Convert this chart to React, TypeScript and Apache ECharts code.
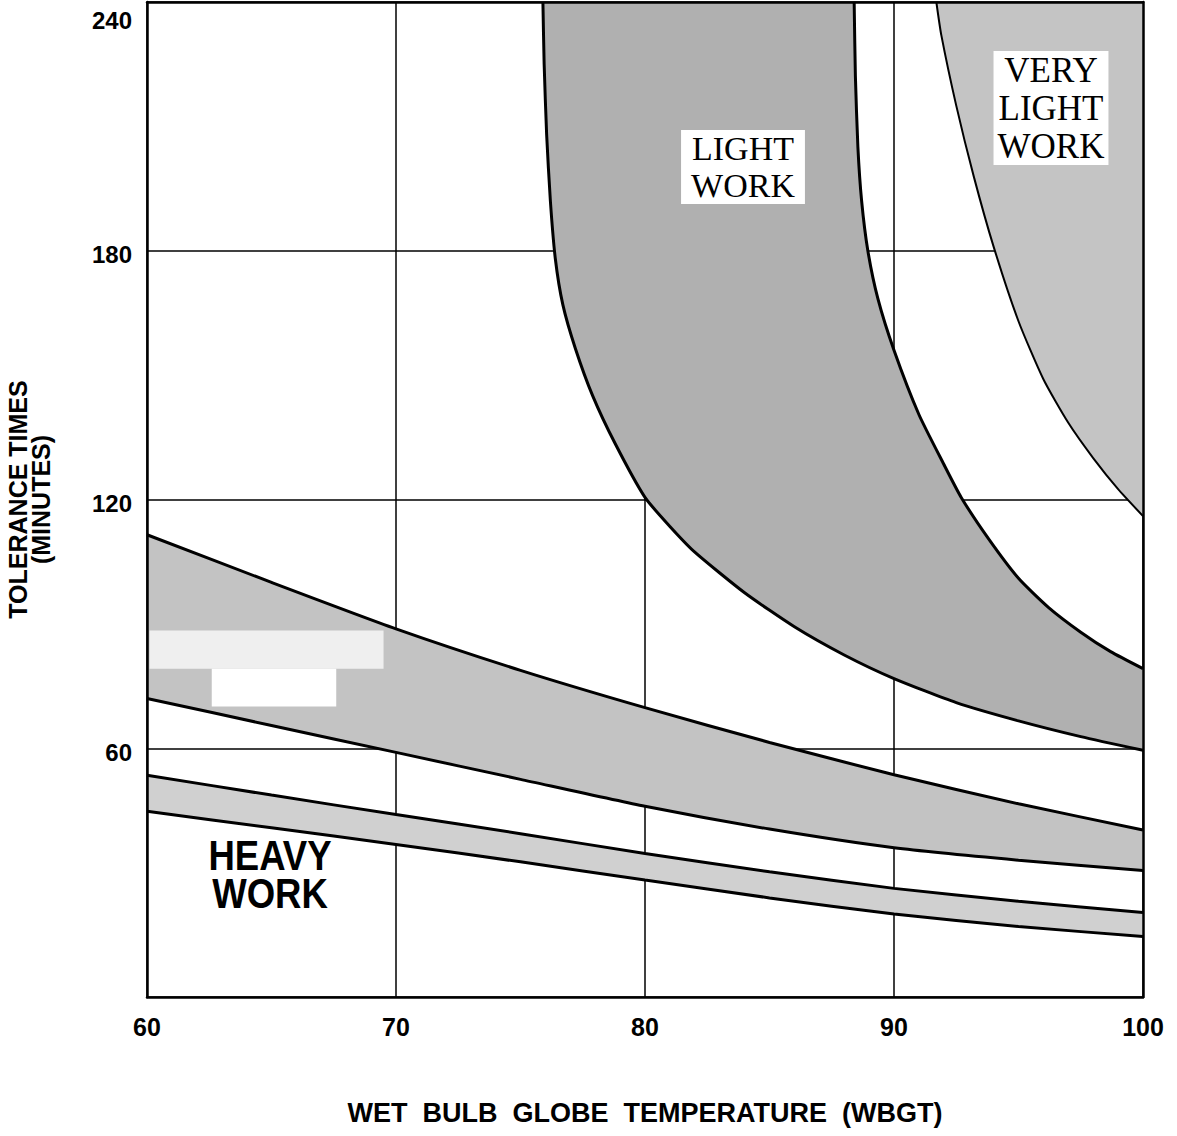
import React, { useEffect, useRef } from 'react';
import * as echarts from 'echarts';

// ---- axis ticks ----
const wbgtTicks = [60, 70, 80, 90, 100];
const toleranceTicks = [0, 60, 120, 180, 240];

// ---- straight-ish bands (value per WBGT) ----
const wbgt = [60, 65, 70, 75, 80, 85, 90, 95, 100];
const heavyUpper = [53.5, 48.7, 44.0, 39.4, 34.6, 30.2, 26.2, 23.1, 20.4];
const heavyLower = [44.8, 40.8, 36.8, 32.6, 28.2, 23.9, 20.0, 17.0, 14.6];
const moderateUpper = [111.5, 100.0, 88.8, 78.8, 69.8, 61.4, 53.6, 46.6, 40.3];
const moderateLower = [72.0, 65.5, 59.0, 52.5, 46.0, 40.5, 36.0, 33.0, 30.5];

// ---- curved boundaries ([WBGT, minutes]) ----
const lightLeft: number[][] = [
  [75.9, 240], [75.95, 225], [76.05, 208], [76.2, 192], [76.4, 178], [76.7, 167],
  [77.2, 156.5], [77.9, 145], [78.8, 133.5], [80, 120.5], [81, 113.5], [82, 107.3],
  [84, 97.5], [86, 89.3], [88, 82.5], [90, 76.8], [92.5, 71], [95, 66.6], [97.5, 62.8],
  [100, 59.5],
];
const lightRight: number[][] = [
  [88.4, 240], [88.45, 222], [88.55, 205], [88.7, 192], [88.95, 180], [89.35, 168.5],
  [90, 156], [91, 140.5], [92, 128.5], [92.7, 120.5], [93.8, 110.5], [95, 101],
  [96.2, 94], [97.5, 88], [98.7, 83.3], [100, 79.2],
];
const veryLightLeft: number[][] = [
  [91.7, 240], [91.9, 232], [92.5, 215], [93.2, 198], [94, 181], [95, 163],
  [96, 149], [97, 138.5], [98, 130], [99, 122.5], [100, 116],
];

// erased label patches in the moderate band [x0, y0, x1, y1]
const erasedPatches: number[][] = [
  [60.1, 79.2, 69.5, 88.4],
  [62.6, 70.1, 67.6, 79.2],
];
const patchColors = ['#efefef', '#ffffff'];

const SANS = '"Liberation Sans", Arial, Helvetica, sans-serif';
const SERIF = '"Liberation Serif", "Times New Roman", serif';

const pairs = (xs: number[], ys: number[]) => xs.map((x, i) => [x, ys[i]]);

function bandSeries(name: string, points: number[][], color: string) {
  return {
    type: 'custom',
    name,
    z: 2,
    silent: true,
    clip: true,
    data: [points[0]],
    renderItem: (_p: any, api: any) => ({
      type: 'polygon',
      shape: { points: points.map((p) => api.coord(p)) },
      style: { fill: color, lineWidth: 0 },
    }),
  };
}

function lineSeries(name: string, data: number[][], width: number) {
  return {
    type: 'line',
    name,
    z: 4,
    data,
    smooth: 0.2,
    symbol: 'none',
    silent: true,
    lineStyle: { color: '#000', width },
  };
}

function frameAxis(position: string, isX: boolean) {
  return {
    type: 'value',
    position,
    min: isX ? wbgtTicks[0] : toleranceTicks[0],
    max: isX ? wbgtTicks[wbgtTicks.length - 1] : toleranceTicks[toleranceTicks.length - 1],
    z: 10,
    axisLine: { show: true, onZero: false, lineStyle: { color: '#000', width: 2.5 } },
    axisTick: { show: false },
    axisLabel: { show: false },
    splitLine: { show: false },
  };
}

function buildOption() {
  const heavyBand = [...pairs(wbgt, heavyUpper), ...pairs(wbgt, heavyLower).reverse()];
  const moderateBand = [...pairs(wbgt, moderateUpper), ...pairs(wbgt, moderateLower).reverse()];
  const lightBand = [...lightLeft, ...[...lightRight].reverse()];
  const veryLightBand = [...veryLightLeft, [100, 240]];

  return {
    animation: false,
    backgroundColor: '#fff',
    grid: { left: 147, right: 34, top: 2, bottom: 139, containLabel: false, outerBoundsMode: 'none' },
    xAxis: [
      {
        type: 'value',
        position: 'bottom',
        min: wbgtTicks[0],
        max: wbgtTicks[wbgtTicks.length - 1],
        interval: 10,
        z: 0,
        axisLine: { show: false },
        axisTick: { show: false },
        splitLine: { show: true, lineStyle: { color: '#000', width: 1.5 } },
        axisLabel: {
          margin: 17,
          color: '#000',
          fontFamily: SANS,
          fontSize: 25,
          fontWeight: 'bold',
        },
        name: 'WET  BULB  GLOBE  TEMPERATURE  (WBGT)',
        nameLocation: 'middle',
        nameGap: 102,
        nameTextStyle: { color: '#000', fontFamily: SANS, fontSize: 27, fontWeight: 'bold' },
      },
      frameAxis('top', true),
      frameAxis('bottom', true),
    ],
    yAxis: [
      {
        type: 'value',
        position: 'left',
        min: toleranceTicks[0],
        max: toleranceTicks[toleranceTicks.length - 1],
        interval: 60,
        z: 0,
        axisLine: { show: false },
        axisTick: { show: false },
        splitLine: { show: true, lineStyle: { color: '#000', width: 1.5 } },
        axisLabel: {
          margin: 15,
          color: '#000',
          fontFamily: SANS,
          fontSize: 24,
          fontWeight: 'bold',
          verticalAlign: 'top',
          lineHeight: 8,
          formatter: (v: number) =>
            v === toleranceTicks[0] ? '' : v === toleranceTicks[toleranceTicks.length - 1] ? `{top|${v}}` : `${v}`,
          rich: {
            top: {
              color: '#000',
              fontFamily: SANS,
              fontSize: 24,
              fontWeight: 'bold',
              lineHeight: 8,
              padding: [28, 0, 0, 0],
            },
          },
        },
        name: 'TOLERANCE TIMES\n(MINUTES)',
        nameLocation: 'middle',
        nameRotate: 90,
        nameGap: 95,
        nameTextStyle: { color: '#000', fontFamily: SANS, fontSize: 25, fontWeight: 'bold', lineHeight: 23 },
      },
      frameAxis('right', false),
      frameAxis('left', false),
    ],
    series: [
      bandSeries('Heavy work', heavyBand, '#d0d0d0'),
      bandSeries('Moderate work', moderateBand, '#c3c3c3'),
      bandSeries('Light work', lightBand, '#b0b0b0'),
      bandSeries('Very light work', veryLightBand, '#c4c4c4'),
      {
        type: 'custom',
        name: 'erased',
        z: 3,
        silent: true,
        data: erasedPatches,
        renderItem: (p: any, api: any) => {
          const a = api.coord([api.value(0), api.value(3)]);
          const b = api.coord([api.value(2), api.value(1)]);
          return {
            type: 'rect',
            shape: { x: a[0], y: a[1], width: b[0] - a[0], height: b[1] - a[1] },
            style: { fill: patchColors[p.dataIndex] },
          };
        },
      },
      lineSeries('Heavy upper', pairs(wbgt, heavyUpper), 3),
      lineSeries('Heavy lower', pairs(wbgt, heavyLower), 3),
      lineSeries('Moderate upper', pairs(wbgt, moderateUpper), 3),
      lineSeries('Moderate lower', pairs(wbgt, moderateLower), 3),
      lineSeries('Light left', lightLeft, 3),
      lineSeries('Light right', lightRight, 3),
      lineSeries('Very light left', veryLightLeft, 2),
    ],
    graphic: [
      {
        type: 'text',
        x: 743,
        y: 167,
        z: 50,
        style: {
          text: 'LIGHT\nWORK',
          fill: '#000',
          fontFamily: SERIF,
          fontSize: 34,
          lineHeight: 37,
          align: 'center',
          verticalAlign: 'middle',
          backgroundColor: '#fff',
          padding: [0, 10],
        },
      },
      {
        type: 'text',
        x: 1051,
        y: 108,
        z: 50,
        style: {
          text: 'VERY\nLIGHT\nWORK',
          fill: '#000',
          fontFamily: SERIF,
          fontSize: 35,
          lineHeight: 38,
          align: 'center',
          verticalAlign: 'middle',
          backgroundColor: '#fff',
          padding: [0, 4],
        },
      },
      {
        type: 'text',
        x: 270,
        y: 874,
        z: 50,
        scaleX: 0.87,
        style: {
          text: 'HEAVY\nWORK',
          fill: '#000',
          fontFamily: SANS,
          fontSize: 42,
          fontWeight: 'bold',
          lineHeight: 38,
          align: 'center',
          verticalAlign: 'middle',
        },
      },
    ],
  };
}

export default function App() {
  const ref = useRef<HTMLDivElement>(null);
  useEffect(() => {
    document.body.style.margin = '0';
    const chart = echarts.init(ref.current as HTMLDivElement, null, { renderer: 'svg' });
    chart.setOption(buildOption() as any);
    return () => chart.dispose();
  }, []);
  return <div ref={ref} style={{ width: 1177, height: 1136 }} />;
}
